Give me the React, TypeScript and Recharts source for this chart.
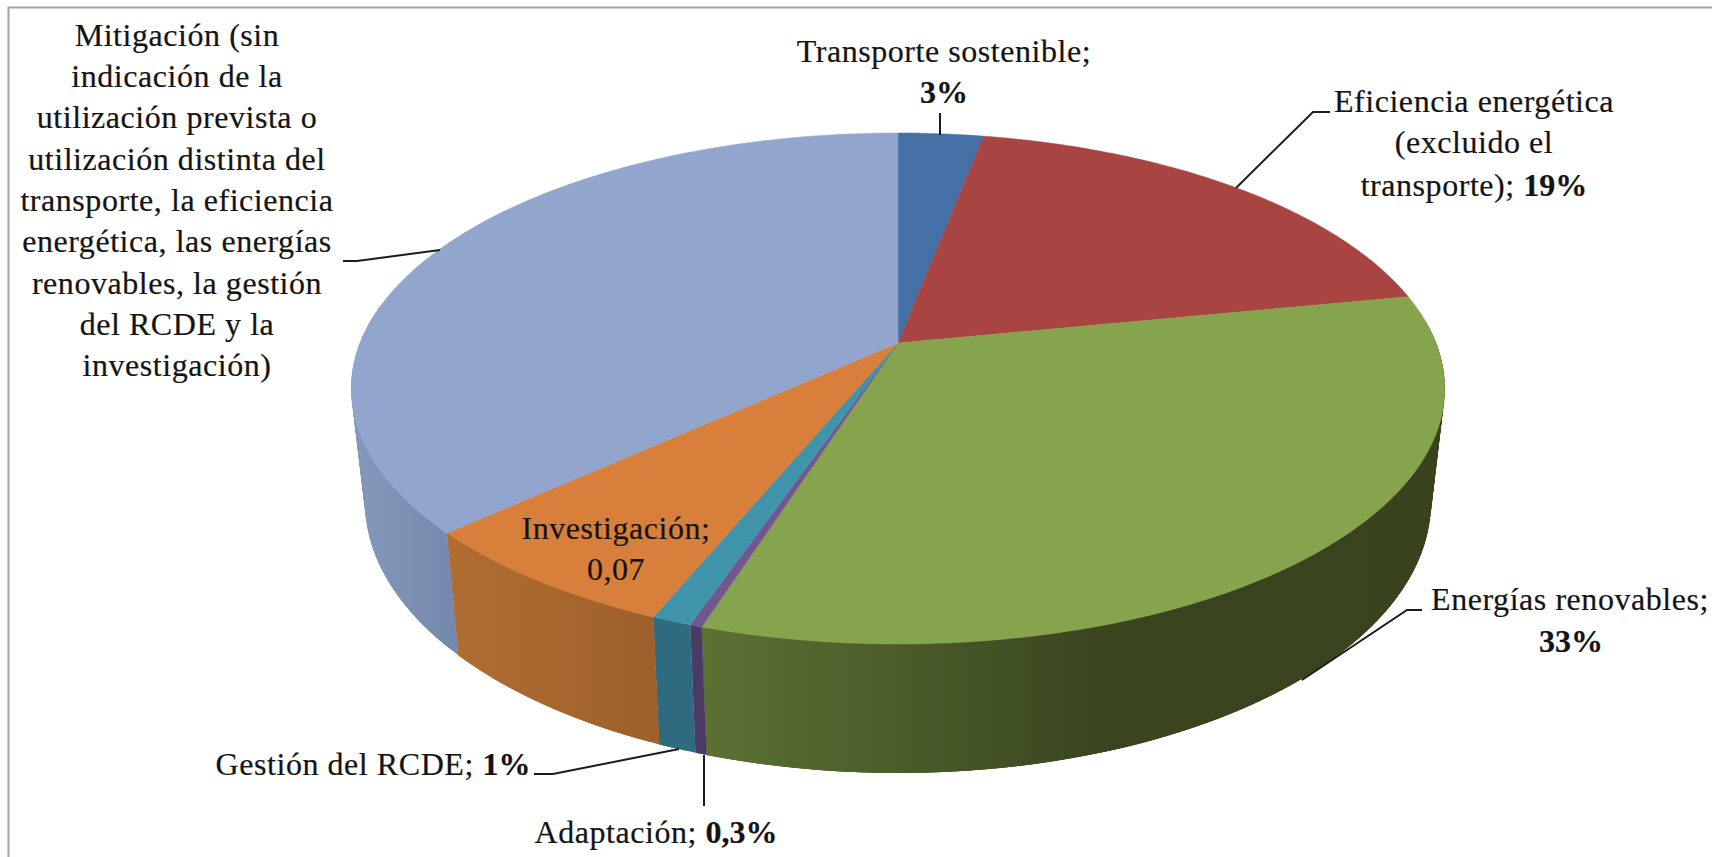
// 3D-look pie of green bond use of proceeds, drawn with Recharts Pie + custom sector shapes
import { PieChart, Pie } from 'recharts'

const categories = [
  'Transporte sostenible',
  'Eficiencia energética',
  'Energías renovables',
  'Adaptación',
  'Gestión del RCDE',
  'Investigación',
  'Mitigación',
]
const shares = [3, 18.9, 33, 0.3, 1, 7, 36.8]
const topColors = ['#4470a5', '#a84442', '#86a44d', '#73568f', '#3f94ac', '#d77f3b', '#92a6cd']
// wall shading, [colour, x in px] stops from left to right
const wallStops: Array<Array<[string, number]>> = [
  [['#35537b', 900], ['#35537b', 1000]],
  [['#7d3231', 1000], ['#7d3231', 1400]],
  [['#5c7034', 705], ['#4b5c2a', 900], ['#3a4520', 1100], ['#38431e', 1440]],
  [['#4c3a66', 700], ['#4c3a66', 710]],
  [['#2f6b7f', 655], ['#2f6b7f', 705]],
  [['#b06d32', 450], ['#9e5f2b', 660]],
  [['#8499bb', 350], ['#7488ad', 460]],
]

const WIDTH = 1712
const HEIGHT = 857
const FONT = '"Liberation Serif", serif'
const FONT_SIZE = 32
const SPACING = 0.55

// perspective of the pie disc: rim point = apex + (a*x, -b*y) / (1 + p*y)
const PERSPECTIVE = 0.178
const TOP_PLANE = { cy: 343, a: 538, b: 247.4 }
const BOTTOM_PLANE = { cy: 453.8, a: 524.5, b: 262.4 }
const CX = 898

type Plane = typeof TOP_PLANE

function rimPoint(plane: Plane, deg: number): [number, number] {
  const x = Math.cos((deg * Math.PI) / 180)
  const y = Math.sin((deg * Math.PI) / 180)
  const d = 1 + PERSPECTIVE * y
  return [CX + (plane.a * x) / d, plane.cy - (plane.b * y) / d]
}

function stepsBetween(start: number, end: number): number[] {
  const n = Math.max(2, Math.ceil(Math.abs(end - start)))
  const out: number[] = []
  for (let i = 0; i <= n; i++) out.push(start + ((end - start) * i) / n)
  return out
}

// flat top of a slice
function TopSector(props: any) {
  const pts = stepsBetween(props.startAngle, props.endAngle).map((d) => rimPoint(TOP_PLANE, d))
  const path =
    `M${CX},${TOP_PLANE.cy} ` + pts.map((p) => `L${p[0].toFixed(2)},${p[1].toFixed(2)}`).join(' ') + ' Z'
  return <path d={path} fill={props.fill} stroke={props.fill} strokeWidth={0.5} />
}

// outer wall of a slice: overlapping quads, so the fold at the silhouette stays filled and no seams show
function WallSector(props: any) {
  const steps = stepsBetween(props.startAngle, props.endAngle)
  const quads = []
  for (let i = 0; i < steps.length - 1; i++) {
    if (Math.sin((steps[i] * Math.PI) / 180) > 0.1) continue
    const next = steps[Math.min(i + 3, steps.length - 1)]
    const a = rimPoint(TOP_PLANE, steps[i])
    const b = rimPoint(TOP_PLANE, next)
    const c = rimPoint(BOTTOM_PLANE, next)
    const d = rimPoint(BOTTOM_PLANE, steps[i])
    quads.push(
      <path
        key={i}
        d={`M${a[0]},${a[1]} L${b[0]},${b[1]} L${c[0]},${c[1]} L${d[0]},${d[1]} Z`}
        fill={props.fill}
      />,
    )
  }
  return <g>{quads}</g>
}

const topData = categories.map((name, i) => ({ name, value: shares[i], fill: topColors[i] }))
const wallData = categories.map((name, i) => ({ name, value: shares[i], fill: `url(#wall-${i})` }))

const labelLines = [
  { x: 177, y: 46, text: 'Mitigación (sin' },
  { x: 177, y: 87, text: 'indicación de la' },
  { x: 177, y: 128, text: 'utilización prevista o' },
  { x: 177, y: 170, text: 'utilización distinta del' },
  { x: 177, y: 211, text: 'transporte, la eficiencia' },
  { x: 177, y: 252, text: 'energética, las energías' },
  { x: 177, y: 294, text: 'renovables, la gestión' },
  { x: 177, y: 335, text: 'del RCDE y la' },
  { x: 177, y: 376, text: 'investigación)' },
  { x: 944, y: 62, text: 'Transporte sostenible;' },
  { x: 944, y: 103, bold: '3%' },
  { x: 1474, y: 112, text: 'Eficiencia energética' },
  { x: 1474, y: 153, text: '(excluido el' },
  { x: 1474, y: 196, text: 'transporte); ', bold: '19%' },
  { x: 1570, y: 610, text: 'Energías renovables;' },
  { x: 1571, y: 652, bold: '33%' },
  { x: 616, y: 539, text: 'Investigación;' },
  { x: 616, y: 580, text: '0,07' },
  { x: 373, y: 775, text: 'Gestión del RCDE; ', bold: '1%' },
  { x: 656, y: 843, text: 'Adaptación; ', bold: '0,3%' },
]

const leaders = [
  '940,113 940,135',
  '1330,112 1313,112 1236,188',
  '1422,610 1407,610 1302,680',
  '343,261 357,261 440,250',
  '534,774 553,774 679,749',
  '704,755 704,806',
]

const layer = { position: 'absolute', left: 0, top: 0 } as const

export default function App() {
  return (
    <div style={{ ...layer, width: WIDTH, height: HEIGHT, background: '#fff' }}>
      <div style={layer}>
        <PieChart width={WIDTH} height={HEIGHT} margin={{ top: 0, right: 0, bottom: 0, left: 0 }}>
          <defs>
            {wallStops.map((stops, i) => {
              const x1 = stops[0][1]
              const x2 = stops[stops.length - 1][1]
              return (
                <linearGradient key={i} id={`wall-${i}`} gradientUnits="userSpaceOnUse" x1={x1} y1={0} x2={x2} y2={0}>
                  {stops.map(([color, x]) => (
                    <stop key={x} offset={(x - x1) / (x2 - x1)} stopColor={color} />
                  ))}
                </linearGradient>
              )
            })}
          </defs>

          <Pie
            data={wallData}
            dataKey="value"
            cx={CX}
            cy={TOP_PLANE.cy}
            outerRadius={TOP_PLANE.a}
            startAngle={90}
            endAngle={-270}
            shape={WallSector}
            stroke="none"
            label={false}
            labelLine={false}
            isAnimationActive={false}
          />
          <Pie
            data={topData}
            dataKey="value"
            cx={CX}
            cy={TOP_PLANE.cy}
            outerRadius={TOP_PLANE.a}
            startAngle={90}
            endAngle={-270}
            shape={TopSector}
            stroke="none"
            label={false}
            labelLine={false}
            isAnimationActive={false}
          />
        </PieChart>
      </div>

      {/* labels sit above the pie, Recharts puts its sectors over plain svg children */}
      <svg width={WIDTH} height={HEIGHT} style={layer}>
        <path d={`M8.5,${HEIGHT} V7.5 H${WIDTH}`} fill="none" stroke="#a3a3a3" strokeWidth={2} />
        {leaders.map((points) => (
          <polyline key={points} points={points} fill="none" stroke="#1c1c1c" strokeWidth={2} />
        ))}
        {labelLines.map((l) => (
          <text
            key={`${l.x}-${l.y}`}
            x={l.x}
            y={l.y}
            textAnchor="middle"
            fontFamily={FONT}
            fontSize={FONT_SIZE}
            letterSpacing={SPACING}
            fill="#141414"
            stroke="#141414"
            strokeWidth={0.2}
          >
            {l.text}
            {l.bold ? (
              <tspan fontWeight="bold" letterSpacing={0}>
                {l.bold}
              </tspan>
            ) : null}
          </text>
        ))}
      </svg>
    </div>
  )
}
